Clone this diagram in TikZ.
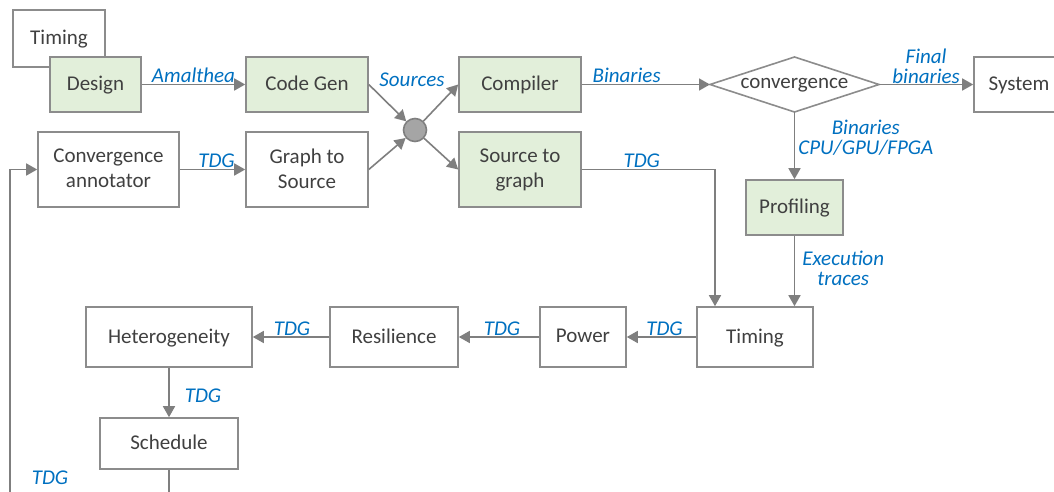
\documentclass[tikz,border=0pt]{standalone}
\usepackage{fontspec}
\setmainfont{Carlito}
\usetikzlibrary{arrows.meta}

\definecolor{linegray}{HTML}{7F7F7F}
\definecolor{boxgray}{HTML}{8C8C8C}
\definecolor{txtgray}{HTML}{404040}
\definecolor{lblblue}{HTML}{0070C0}
\definecolor{stepgreen}{HTML}{E2EFDA}

\tikzset{
	blk/.style={draw=boxgray, line width=1.6pt, fill=white, text=txtgray,
		align=center, inner sep=0pt, text depth=2pt, font=\fontsize{21}{25}\selectfont},
	gblk/.style={blk, fill=stepgreen},
	lbl/.style={text=lblblue, align=center, inner sep=1pt,
		font=\fontsize{21}{20.5}\selectfont\itshape},
	conn/.style={draw=linegray, line width=1.6pt, -{Triangle[length=11pt,width=12pt]}},
	plain/.style={draw=linegray, line width=1.6pt}
}

\begin{document}
\begin{tikzpicture}[x=1pt,y=-1pt]
	\clip (0,0) rectangle (1054,492);

	% top row
	\node[blk, minimum width=92pt, minimum height=57pt] (timingA) at (59,38.5) {Timing};
	\node[gblk, minimum width=91pt, minimum height=55pt] (design) at (95.5,84.5) {Design};
	\node[gblk, minimum width=122pt, minimum height=55pt] (codegen) at (307,84.5) {Code Gen};
	\node[gblk, minimum width=122pt, minimum height=55pt] (compiler) at (520,84.5) {Compiler};
	\node[blk, minimum width=90pt, minimum height=55pt] (system) at (1019,84.5) {System};

	% convergence test
	\coordinate (convW) at (710,84.5);
	\coordinate (convE) at (879,84.5);
	\coordinate (convN) at (794.5,57);
	\coordinate (convS) at (794.5,112);
	\draw[draw=boxgray, line width=1.6pt, fill=white] (convW) -- (convN) -- (convE) -- (convS) -- cycle;
	\node[text=txtgray, font=\fontsize{21}{25}\selectfont, inner sep=0pt, text depth=2pt] (conv) at (794.5,84.5) {convergence};

	% second row
	\node[blk, minimum width=141pt, minimum height=75pt] (convann) at (108.5,169.5) {Convergence\\annotator};
	\node[blk, minimum width=122pt, minimum height=75pt] (graphsrc) at (307,169.5) {Graph to\\Source};
	\node[gblk, minimum width=122pt, minimum height=75pt] (srcgraph) at (520,169.5) {Source to\\graph};
	\node[circle, draw=linegray, line width=1.6pt, fill=linegray!70, minimum size=23pt, inner sep=0pt] (merge) at (415,130) {};
	\node[gblk, minimum width=97pt, minimum height=55pt] (profiling) at (794.5,207.5) {Profiling};

	% analysis chain
	\node[blk, minimum width=116pt, minimum height=60pt] (timingB) at (755,337) {Timing};
	\node[blk, minimum width=86pt, minimum height=60pt] (power) at (583,337) {Power};
	\node[blk, minimum width=128pt, minimum height=60pt] (resil) at (394,337) {Resilience};
	\node[blk, minimum width=166pt, minimum height=60pt] (hetero) at (169,337) {Heterogeneity};
	\node[blk, minimum width=138pt, minimum height=51pt] (sched) at (169,443.5) {Schedule};

	\coordinate (schedout) at (169,500);
	\coordinate (loopin) at (10,500);
	\coordinate (tdgdrop) at (715,169.5);

	% connectors
	\draw[conn] (design.east) -- node[lbl, above] (lAmal) {Amalthea} (codegen.west);
	\draw[conn] (codegen.east) -- (merge);
	\draw[conn] (graphsrc.east) -- (merge);
	\draw[conn] (merge) -- (compiler.west);
	\draw[conn] (merge) -- (srcgraph.west);
	\node[lbl] (lSrc) at ([xshift=-3pt,yshift=50pt]merge) {Sources};
	\draw[conn] (compiler.east) -- node[lbl, above, pos=0.35] (lBin) {Binaries} (convW);
	\draw[conn] (convE) -- node[lbl, above, yshift=-1pt] (lFinal) {Final\\binaries} (system.west);
	\draw[conn] (convS) -- node[lbl, right, pos=0.38, xshift=2pt] (lCpu) {Binaries\\CPU/GPU/FPGA} (profiling.north);
	\draw[conn] (profiling.south) -- node[lbl, right, pos=0.46, xshift=6pt] (lExec) {Execution\\traces} (profiling.south |- timingB.north);
	\draw[conn] (srcgraph.east) -- node[lbl, above, pos=0.45] (lTdgA) {TDG} (tdgdrop) -- (tdgdrop |- timingB.north);
	\draw[conn] (convann.east) -- node[lbl, above, xshift=4pt] (lTdgB) {TDG} (graphsrc.west);
	\draw[conn] (timingB.west) -- node[lbl, above, xshift=3pt] (lTdgC) {TDG} (power.east);
	\draw[conn] (power.west) -- node[lbl, above, xshift=3pt] (lTdgD) {TDG} (resil.east);
	\draw[conn] (resil.west) -- node[lbl, above, xshift=1pt] (lTdgE) {TDG} (hetero.east);
	\draw[conn] (hetero.south) -- node[lbl, right, xshift=14pt, yshift=-3pt] (lTdgF) {TDG} (sched.north);
	\draw[plain] (sched.south) -- (schedout);
	\draw[conn] (loopin) -- (loopin |- convann.west) -- (convann.west);
	\node[lbl] (lTdgG) at (50,478) {TDG};
\end{tikzpicture}
\end{document}
